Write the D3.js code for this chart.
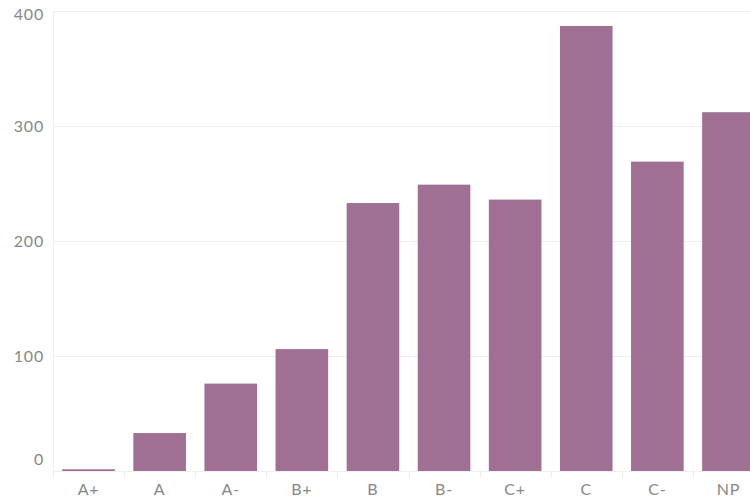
<!DOCTYPE html>
<html><head><meta charset="utf-8">
<script src="https://cdn.jsdelivr.net/npm/d3@7/dist/d3.min.js"></script>
<style>body{margin:0;background:#fff}svg{display:block}</style>
</head><body>
<svg id="c" width="750" height="499"></svg>
<script>
const categories = ["A+","A","A-","B+","B","B-","C+","C","C-","NP"];
const counts = [1.5,33,76,106,233,249,236,387,269,312];
const yTicks = [0,100,200,300,400];

(function(){
const svg = d3.select("#c");
const mLeft = 53, mTop = 11, mBottom = 471, mRight = 764;
const x = d3.scaleBand().domain(categories).range([mLeft, mRight]).paddingInner(0.26).paddingOuter(0.13);
const y = d3.scaleLinear().domain([0,400]).range([mBottom, mTop]);
const font = "Lato, 'Open Sans', sans-serif";
const txt = "#878787";

// gridlines
svg.append("g").selectAll("line").data(yTicks).join("line")
  .attr("x1", mLeft).attr("x2", 750)
  .attr("y1", d => y(d)+0.5).attr("y2", d => y(d)+0.5)
  .attr("stroke", "#efefef").attr("stroke-width", 1);

// y axis line
svg.append("line").attr("x1", mLeft+0.5).attr("x2", mLeft+0.5).attr("y1", mTop).attr("y2", mBottom+7)
  .attr("stroke", "#efefef");

// y labels
svg.append("g").selectAll("text").data(yTicks).join("text")
  .attr("x", 44).attr("y", d => Math.max(Math.min(y(d), mBottom - 12), mTop + 3)).attr("dy", "0.35em")
  .attr("text-anchor", "end").attr("font-family", font).attr("font-size", 16)
  .attr("letter-spacing", "0.8px")
  .attr("fill", txt).text(d => d);

// x band separators
const step = x.step();
svg.append("g").selectAll("line").data(categories.slice(1)).join("line")
  .attr("x1", d => Math.round(x(d) - (step - x.bandwidth())/2)+0.5)
  .attr("x2", d => Math.round(x(d) - (step - x.bandwidth())/2)+0.5)
  .attr("y1", mBottom).attr("y2", mBottom+7).attr("stroke", "#efefef");

// bars
svg.append("g").selectAll("rect").data(categories).join("rect")
  .attr("x", d => x(d)).attr("width", x.bandwidth())
  .attr("y", (d,i) => y(counts[i])).attr("height", (d,i) => mBottom - y(counts[i]))
  .attr("fill", "#a07094");

// x labels
svg.append("g").selectAll("text").data(categories).join("text")
  .attr("x", d => x(d) + x.bandwidth()/2).attr("y", 489).attr("dy", "0.35em")
  .attr("text-anchor", "middle").attr("font-family", font).attr("font-size", 16)
  .attr("letter-spacing", "0.8px")
  .attr("fill", txt).text(d => d);
})();
</script>
</body></html>
